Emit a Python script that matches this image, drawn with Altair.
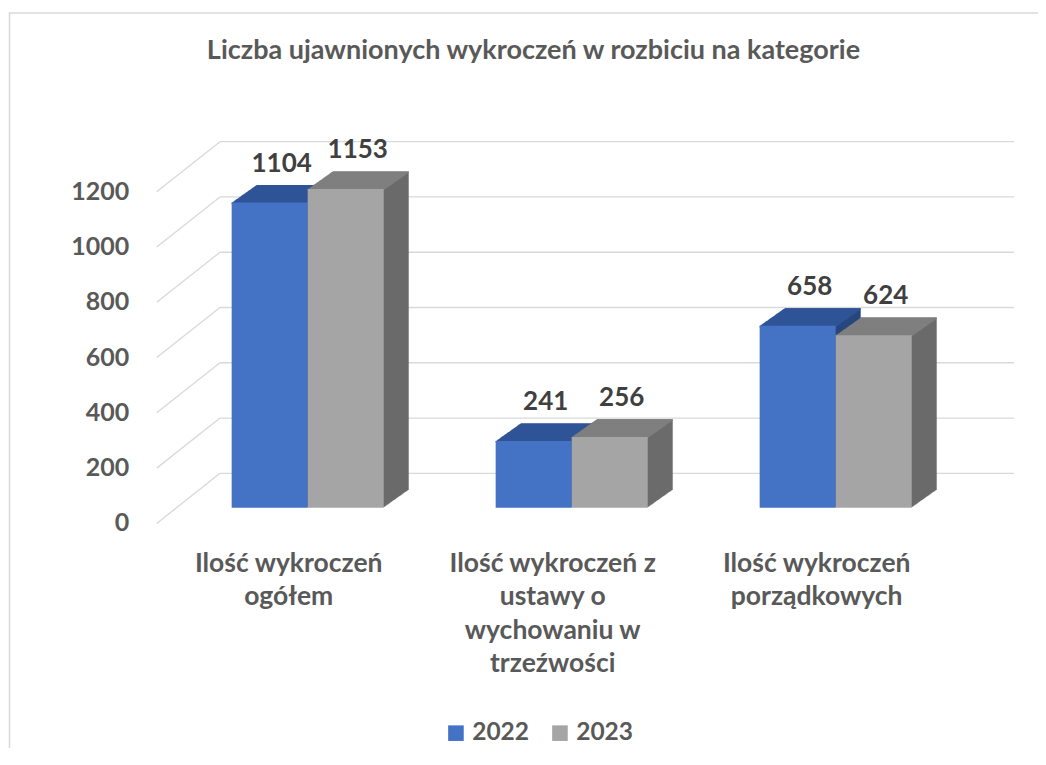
import altair as alt
import pandas as pd

# ---------------- data ----------------
categories = [
    "Ilość wykroczeń\nogółem",
    "Ilość wykroczeń z\nustawy o\nwychowaniu w\ntrzeźwości",
    "Ilość wykroczeń\nporządkowych",
]
years = ["2022", "2023"]
values_2022 = [1104, 241, 658]
values_2023 = [1153, 256, 624]
y_ticks = [0, 200, 400, 600, 800, 1000, 1200]
title_text = "Liczba ujawnionych wykroczeń w rozbiciu na kategorie"

rows = []
for i, c in enumerate(categories):
    for j, vals in enumerate([values_2022, values_2023]):
        rows.append({"cat": c, "ci": i, "year": years[j], "yi": j, "value": vals[i]})
df = pd.DataFrame(rows)
cat_df = pd.DataFrame({"cat": categories, "ci": list(range(len(categories)))})
tick_df = pd.DataFrame({"v": y_ticks})

# ---------------- style ----------------
FONT = "Lato"
TXT = "#595959"
BAR_W = 0.288
PLOT_W, PLOT_H = 792, 331.6
N = 25
DX, DY = 25.0, 17.7
front = {"2022": "#4472C4", "2023": "#A5A5A5"}
top = {"2022": "#2F5597", "2023": "#7F7F7F"}
side = {"2022": "#27467E", "2023": "#6B6B6B"}

xs = alt.Scale(domain=[0, len(categories)], nice=False, zero=False)
ys = alt.Scale(domain=[0, 1200], nice=False)

base = alt.Chart(df).transform_calculate(
    x0=f"datum.ci + 0.5 - {BAR_W} + datum.yi * {BAR_W}",
    x1=f"datum.ci + 0.5 + datum.yi * {BAR_W}",
    xc=f"datum.ci + 0.5 - {BAR_W} / 2 + datum.yi * {BAR_W}",
    vtop="datum.value - 5.5",
    zero="0",
)

layers = []

# outer frame
frame = alt.Chart(pd.DataFrame({"a": [0]})).mark_rect(
    fill=None, stroke="#d9d9d9", strokeWidth=1.5
).encode(x=alt.value(-166.2), x2=alt.value(1000), y=alt.value(-163.1), y2=alt.value(700))
layers.append(frame)

# back wall gridlines
grid_h = alt.Chart(tick_df).mark_rule(color="#d9d9d9", strokeWidth=1.3, yOffset=-34.4).encode(
    x=alt.value(44.3), x2=alt.value(838.3),
    y=alt.Y("v:Q", scale=ys, axis=None),
)
grid_d = alt.Chart(tick_df).mark_rule(
    color="#d9d9d9", strokeWidth=1.3, yOffset=15.7, y2Offset=-34.4
).encode(
    x=alt.value(-19), x2=alt.value(44.3),
    y=alt.Y("v:Q", scale=ys, axis=None), y2="v:Q",
)
layers += [grid_h, grid_d]

# y tick labels (front plane)
tick_labels = alt.Chart(tick_df).mark_text(
    align="right", baseline="middle", dy=15.8,
    font=FONT, fontSize=25, fontWeight="bold", color=TXT,
).encode(
    x=alt.value(-46.4),
    y=alt.Y("v:Q", scale=ys, axis=None),
    text="v:Q",
)
layers.append(tick_labels)

# 3D extrusions
for yr in years:
    b = base.transform_filter(alt.datum.year == yr)
    for k in range(N, 0, -1):
        ox, oy = DX * k / N, -DY * k / N
        layers.append(
            b.mark_rect(color=side[yr], xOffset=ox, x2Offset=ox, yOffset=oy, y2Offset=oy).encode(
                x=alt.X("x0:Q", scale=xs, axis=None), x2="x1:Q",
                y=alt.Y("value:Q", scale=ys, axis=None), y2="zero:Q",
            )
        )
    for k in range(N, -1, -1):
        ox, oy = DX * k / N, -DY * k / N
        layers.append(
            b.mark_rect(color=top[yr], xOffset=ox, x2Offset=ox, yOffset=oy, y2Offset=oy).encode(
                x=alt.X("x0:Q", scale=xs, axis=None), x2="x1:Q",
                y=alt.Y("value:Q", scale=ys, axis=None), y2="vtop:Q",
            )
        )

# front faces (with legend)
fronts = base.mark_rect().encode(
    x=alt.X("x0:Q", scale=xs, axis=None), x2="x1:Q",
    y=alt.Y("value:Q", scale=ys, axis=None),
    y2="zero:Q",
    color=alt.Color("year:N", scale=alt.Scale(domain=years, range=[front[y] for y in years]),
                    legend=alt.Legend(
                        title=None, orient="none", legendX=268, legendY=544.7,
                        direction="horizontal", symbolType="square", symbolSize=243,
                        symbolStrokeWidth=0, labelFont=FONT, labelFontSize=24.5,
                        labelFontWeight="bold", labelColor=TXT, labelOffset=4,
                        columnPadding=18,
                    )),
)
layers.append(fronts)

# data labels
labels = base.mark_text(
    dx=12, dy=-31, baseline="alphabetic", align="center",
    font=FONT, fontSize=26, fontWeight="bold", color="#404040",
).encode(
    x=alt.X("xc:Q", scale=xs, axis=None),
    y=alt.Y("value:Q", scale=ys, axis=None),
    text="value:Q",
)
layers.append(labels)

# category labels
cat_labels = alt.Chart(cat_df).transform_calculate(
    xm="datum.ci + 0.5"
).mark_text(
    dx=-19, baseline="alphabetic", align="center", lineBreak="\n", lineHeight=33.3,
    font=FONT, fontSize=26.5, fontWeight="bold", color=TXT,
).encode(
    x=alt.X("xm:Q", scale=xs, axis=None),
    y=alt.value(395.9),
    text="cat:N",
)
layers.append(cat_labels)

# title
title = alt.Chart(pd.DataFrame({"t": [title_text]})).mark_text(
    baseline="alphabetic", align="center",
    font=FONT, fontSize=27, fontWeight="bold", color=TXT,
).encode(x=alt.value(357.8), y=alt.value(-117.1), text="t:N")
layers.append(title)

chart = alt.layer(*layers).properties(
    width=PLOT_W, height=PLOT_H,
    padding={"left": 167.7, "top": 168.1, "right": 70, "bottom": 240},
    autosize="none",
).configure_view(stroke=None)

chart.save("out.html", embed_options={"renderer": "svg", "actions": False})
